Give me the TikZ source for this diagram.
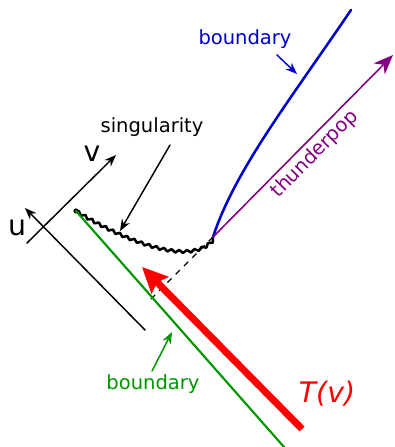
\documentclass[tikz,border=0pt]{standalone}
\usepackage{fontspec}
\setmainfont{DejaVu Sans}
\usetikzlibrary{arrows.meta,decorations.pathmorphing}
\definecolor{bndblue}{RGB}{0,0,205}
\definecolor{bndgreen}{RGB}{0,150,0}
\definecolor{popviolet}{RGB}{128,0,128}
\tikzset{
  lbl/.style={font=\fontsize{10}{12}\selectfont, inner sep=1pt},
  biglbl/.style={font=\fontsize{14.5}{16}\selectfont, inner sep=1pt},
  ptr/.style={-{Stealth[length=6pt,width=4.6pt]}, line width=0.75pt},
}
\begin{document}
\begin{tikzpicture} [>=stealth, line join=round, line cap=round, x=0.018cm, y=-0.018cm]
	\useasboundingbox (0,0) rectangle (394,447);
	\coordinate (S) at (76,211);
	\coordinate (P) at (213,237);
	% axes u and v
	\coordinate (U0) at (145,330); \coordinate (U1) at (25,208);
	\coordinate (V0) at (27,243); \coordinate (V1) at (116,155);
	\draw[ptr] (U0)--(U1);
	\draw[ptr] (V0)--(V1);
	\node[biglbl] (u) at (17,228) {u};
	\node[biglbl] (v) at (92,154) {v};
	% singularity
	\draw[line width=1.3pt, decorate, decoration={snake, amplitude=0.75pt, segment length=4pt}]
		(S) .. controls (115,235) and (190,270) .. (P);
	\fill (S) circle(2.6);
	\node[lbl] (sing) at (152,127) {singularity};
	\coordinate (sing1) at (170,145); \coordinate (sing2) at (120,231);
	\draw[ptr] (sing1)--(sing2);
	\coordinate (D) at (150,300);
	\draw[dashed, line width=0.7pt, dash pattern=on 3pt off 3pt, line cap=butt] (P)--(D);
	% boundaries
	\coordinate (G) at (284,447);
	\draw[bndgreen, line width=1.1pt] (S)--(G);
	\node[lbl, bndgreen] (gl) at (153,384) {boundary};
	\coordinate (gl1) at (152,371); \coordinate (gl2) at (172,332);
	\draw[ptr, bndgreen] (gl1)--(gl2);
	\coordinate (B) at (351,10);
	\draw[bndblue, line width=1.3pt] (P) .. controls (235,170) and (290,100) .. (B);
	\node[lbl, bndblue] (bl) at (245,39) {boundary};
	\coordinate (bl1) at (277,55); \coordinate (bl2) at (297,74);
	\draw[ptr, bndblue] (bl1)--(bl2);
	% thunderpop
	\coordinate (Q) at (393,55);
	\draw[popviolet, line width=0.8pt, -{Stealth[length=10pt,width=8pt,inset=3pt]}] (P)--(Q)
		node[pos=0.51, sloped, below, lbl, popviolet, inner sep=2pt] (tp) {thunderpop};
	% T(v)
	\coordinate (R0) at (302,429); \coordinate (R1) at (142,267);
	\draw[red, line width=3.6pt, line cap=butt, -{Stealth[length=13pt,width=12pt,inset=2pt]}] (R0)--(R1);
	\node[biglbl, red, font=\fontsize{14.5}{16}\selectfont\itshape] (T) at (327,394) {T(v)};
\end{tikzpicture}
\end{document}
